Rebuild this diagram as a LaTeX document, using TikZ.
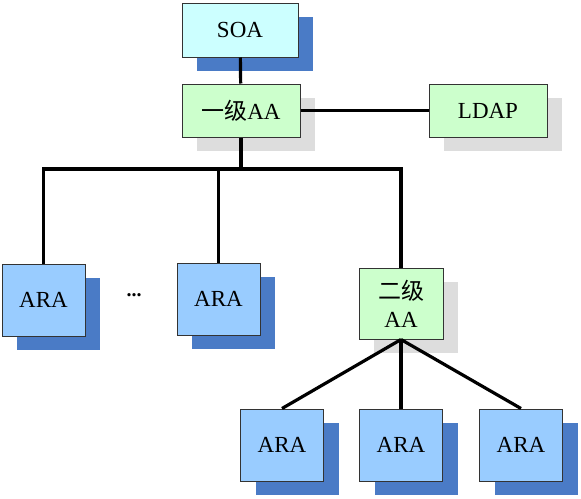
\documentclass[tikz,border=0pt]{standalone}
\usepackage{fontspec}
\setmainfont{Liberation Serif}
\newfontfamily\cjk{Noto Sans CJK SC}
\usetikzlibrary{shadows}
\definecolor{soacyan}{HTML}{CCFFFF}
\definecolor{aagreen}{HTML}{CCFFCC}
\definecolor{arablue}{HTML}{99CCFF}
\definecolor{shblue}{HTML}{4A7BC6}
\definecolor{shgray}{HTML}{DDDDDD}
\begin{document}
\begin{tikzpicture}[x=1pt, y=-1pt,
		box/.style={draw=black!80, line width=1pt, rectangle, inner sep=0pt,
			font=\fontsize{23}{28}\selectfont, align=center},
		blueshadow/.style={general shadow={shadow xshift=15pt, shadow yshift=-14pt, fill=shblue}},
		grayshadow/.style={general shadow={shadow xshift=15pt, shadow yshift=-14pt, fill=shgray}},
		arabox/.style={box, fill=arablue, blueshadow, minimum width=83pt, minimum height=72pt},
		aabox/.style={box, fill=aagreen, grayshadow},
		link/.style={line width=3.2pt}]
		\useasboundingbox (0, 0) rectangle (581, 498);
		\node[box, fill=soacyan, blueshadow, minimum width=116pt, minimum height=54pt] (soa) at (240, 30) {SOA};
		\node[aabox, minimum width=118pt, minimum height=53pt] (aa1) at (241, 110.5) {{\cjk 一级}AA};
		\node[aabox, minimum width=118pt, minimum height=53pt] (ldap) at (488, 110.5) {LDAP};
		\node[arabox] (ara1) at (43.5, 300) {ARA};
		\node (dots) at (134, 295) {\fontsize{20}{22}\selectfont\textbf{...}};
		\node[arabox] (ara2) at (218.5, 299) {ARA};
		\node[aabox, minimum width=84pt, minimum height=71pt] (aa2) at (401, 303.5) {{\cjk 二级}\\AA};
		\foreach \x/\n in {282/3, 401/4, 521/5}{
			\node[arabox] (ara\n) at (\x, 445) {ARA};
		}
		\coordinate (bar) at (0, 169);
		\draw[link] (soa) -- (aa1);
		\draw[link] (aa1) -- (ldap);
		\draw[link] (aa1.south) -- (aa1.south |- bar);
		\draw[link] (ara1.north) |- (aa2.north |- bar) -- (aa2.north);
		\draw[link] (ara2.north) -- (ara2.north |- bar);
		\foreach \n in {3, 4, 5}{
			\draw[link] (aa2.south) -- (ara\n.north);
		}
	\end{tikzpicture}
\end{document}
